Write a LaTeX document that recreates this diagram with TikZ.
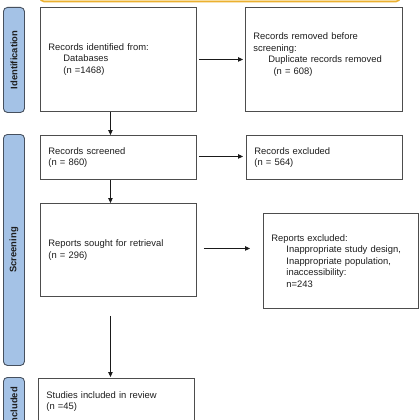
\documentclass[tikz,border=0pt]{standalone}
\usepackage{fontspec}
\setmainfont{Liberation Sans}
\usetikzlibrary{arrows.meta}
\definecolor{boxline}{HTML}{4D4D4D}
\definecolor{txt}{HTML}{1E1E1E}
\definecolor{sidefill}{HTML}{A4C2E6}
\definecolor{sideline}{HTML}{46505E}
\definecolor{arrline}{HTML}{1A1A1A}
\definecolor{gold}{HTML}{EBB030}
\definecolor{cream}{HTML}{FFF6DD}
\begin{document}
\begin{tikzpicture}[x=1pt,y=-1pt,
  box/.style={draw=boxline, line width=0.9pt, fill=white, align=left, anchor=north west,
    inner xsep=8pt, inner ysep=0pt, font=\fontsize{9.4}{11.5}\selectfont, text=txt},
  side/.style={draw=sideline, line width=0.9pt, fill=sidefill, rounded corners=4pt,
    anchor=north west, inner sep=0pt, minimum width=21pt},
  sidelabel/.style={rotate=90, font=\bfseries\fontsize{9.4}{11}\selectfont, text=txt},
  arr/.style={-{Triangle[length=5pt,width=4.5pt]}, line width=0.8pt, draw=arrline}
]
\useasboundingbox (0,0) rectangle (420,420);
\fill[white] (0,0) rectangle (420,420);
% top banner (cut off)
\draw[draw=gold, line width=1.6pt, fill=cream, rounded corners=4pt] (40,-30) rectangle (400,1.5);
% side bars
\node[side, minimum height=105pt] (sid1) at (3,7) {};
\node[sidelabel] (lab1) at (sid1.center) {Identification};
\node[side, minimum height=231pt] (sid2) at (3,134) {};
\node[sidelabel] (lab2) at (sid2.center) {Screening};
\node[side, minimum height=58pt] (sid3) at (3,377) {};
\node[sidelabel] (lab3) at (sid3.center) {Included};
% boxes
\node[box, minimum width=156pt, minimum height=104pt, text width=140pt] (id) at (40,7)
  {Records identified from:\\\hspace*{15pt}Databases\\\hspace*{15pt}(n =1468)};
\node[box, minimum width=157pt, minimum height=104pt, text width=141pt] (rem) at (245,7)
  {Records removed before\\screening:\\\hspace*{15pt}Duplicate records removed\\\hspace*{17pt} (n = 608)\\\mbox{}};
\node[box, minimum width=156pt, minimum height=44pt, text width=140pt] (scr) at (40,135)
  {Records screened\\(n = 860)};
\node[box, minimum width=156pt, minimum height=44pt, text width=140pt] (exc) at (246,135)
  {Records excluded\\(n = 564)};
\node[box, minimum width=156pt, minimum height=93pt, text width=140pt] (sought) at (40,203)
  {Reports sought for retrieval\\(n = 296)};
\node[box, minimum width=155pt, minimum height=95pt, text width=139pt] (exc2) at (263,213)
  {Reports excluded:\\\hspace*{15pt}Inappropriate study design,\\\hspace*{15pt}Inappropriate population,\\\hspace*{15pt}inaccessibility:\\\hspace*{15pt}n=243};
\node[box, minimum width=156pt, minimum height=46pt, text width=140pt] (stud) at (38,378)
  {Studies included in review\\(n =45)};
% connectors
\draw[arr] ([xshift=2pt]id.east) -- ([xshift=-2pt]id.east -| rem.west);
\draw[arr] ([xshift=-8pt]id.south) -- ([xshift=-8pt]id.south |- scr.north);
\draw[arr] ([xshift=2pt,yshift=1pt]scr.east) -- ([xshift=-3pt,yshift=1pt]scr.east -| exc.west);
\draw[arr] ([xshift=-8pt]scr.south) -- ([xshift=-8pt]scr.south |- sought.north);
\draw[arr] ([xshift=7pt,yshift=1.5pt]sought.east) -- ([xshift=-13pt,yshift=1.5pt]sought.east -| exc2.west);
\draw[arr] ([xshift=-8pt,yshift=-19pt]sought.south) -- ([xshift=-8pt,yshift=1pt]sought.south |- stud.north);
\end{tikzpicture}
\end{document}
